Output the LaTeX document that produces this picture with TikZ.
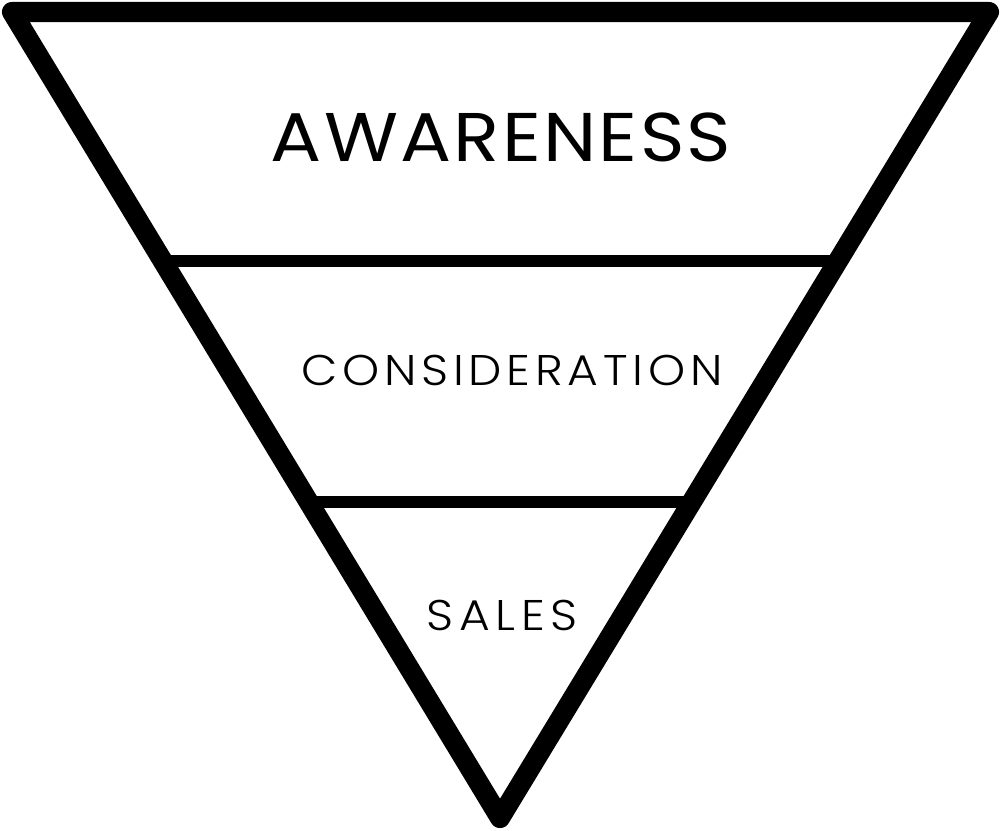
\documentclass[tikz,border=0pt]{standalone}
\usepackage{fontspec}
\setmainfont{Poppins}[UprightFont=* Light]
\newfontfamily\awarefont{Poppins}
\usetikzlibrary{calc}

\begin{document}
\begin{tikzpicture}[x=0.01cm,y=-0.01cm]
\tikzstyle{every node}+=[inner sep=0pt, xscale=1.1]
\tikzstyle{funnel}=[black, line width=5.7pt, line join=round]
\tikzstyle{level}=[black, line width=3.6pt]
\useasboundingbox (0,0) rectangle (1001,830);
\coordinate (tl) at (12,12);
\coordinate (tr) at (989,12);
\coordinate (bot) at (500,818);
\draw [funnel] (tl) -- (tr) -- (bot) -- cycle;
\draw [level] ($(tl)!0.309!(bot)$) -- ($(tr)!0.309!(bot)$);
\draw [level] ($(tl)!0.608!(bot)$) -- ($(tr)!0.608!(bot)$);
\node (awareness) at (501,137) {\fontsize{19.6}{20}\awarefont\addfontfeatures{LetterSpace=3}AWARENESS};
\node (consideration) at (512,370) {\fontsize{12.2}{13}\selectfont\addfontfeatures{LetterSpace=10}CONSIDERATION};
\node (sales) at (502,615) {\fontsize{12.2}{13}\selectfont\addfontfeatures{LetterSpace=12}SALES};
\end{tikzpicture}
\end{document}
